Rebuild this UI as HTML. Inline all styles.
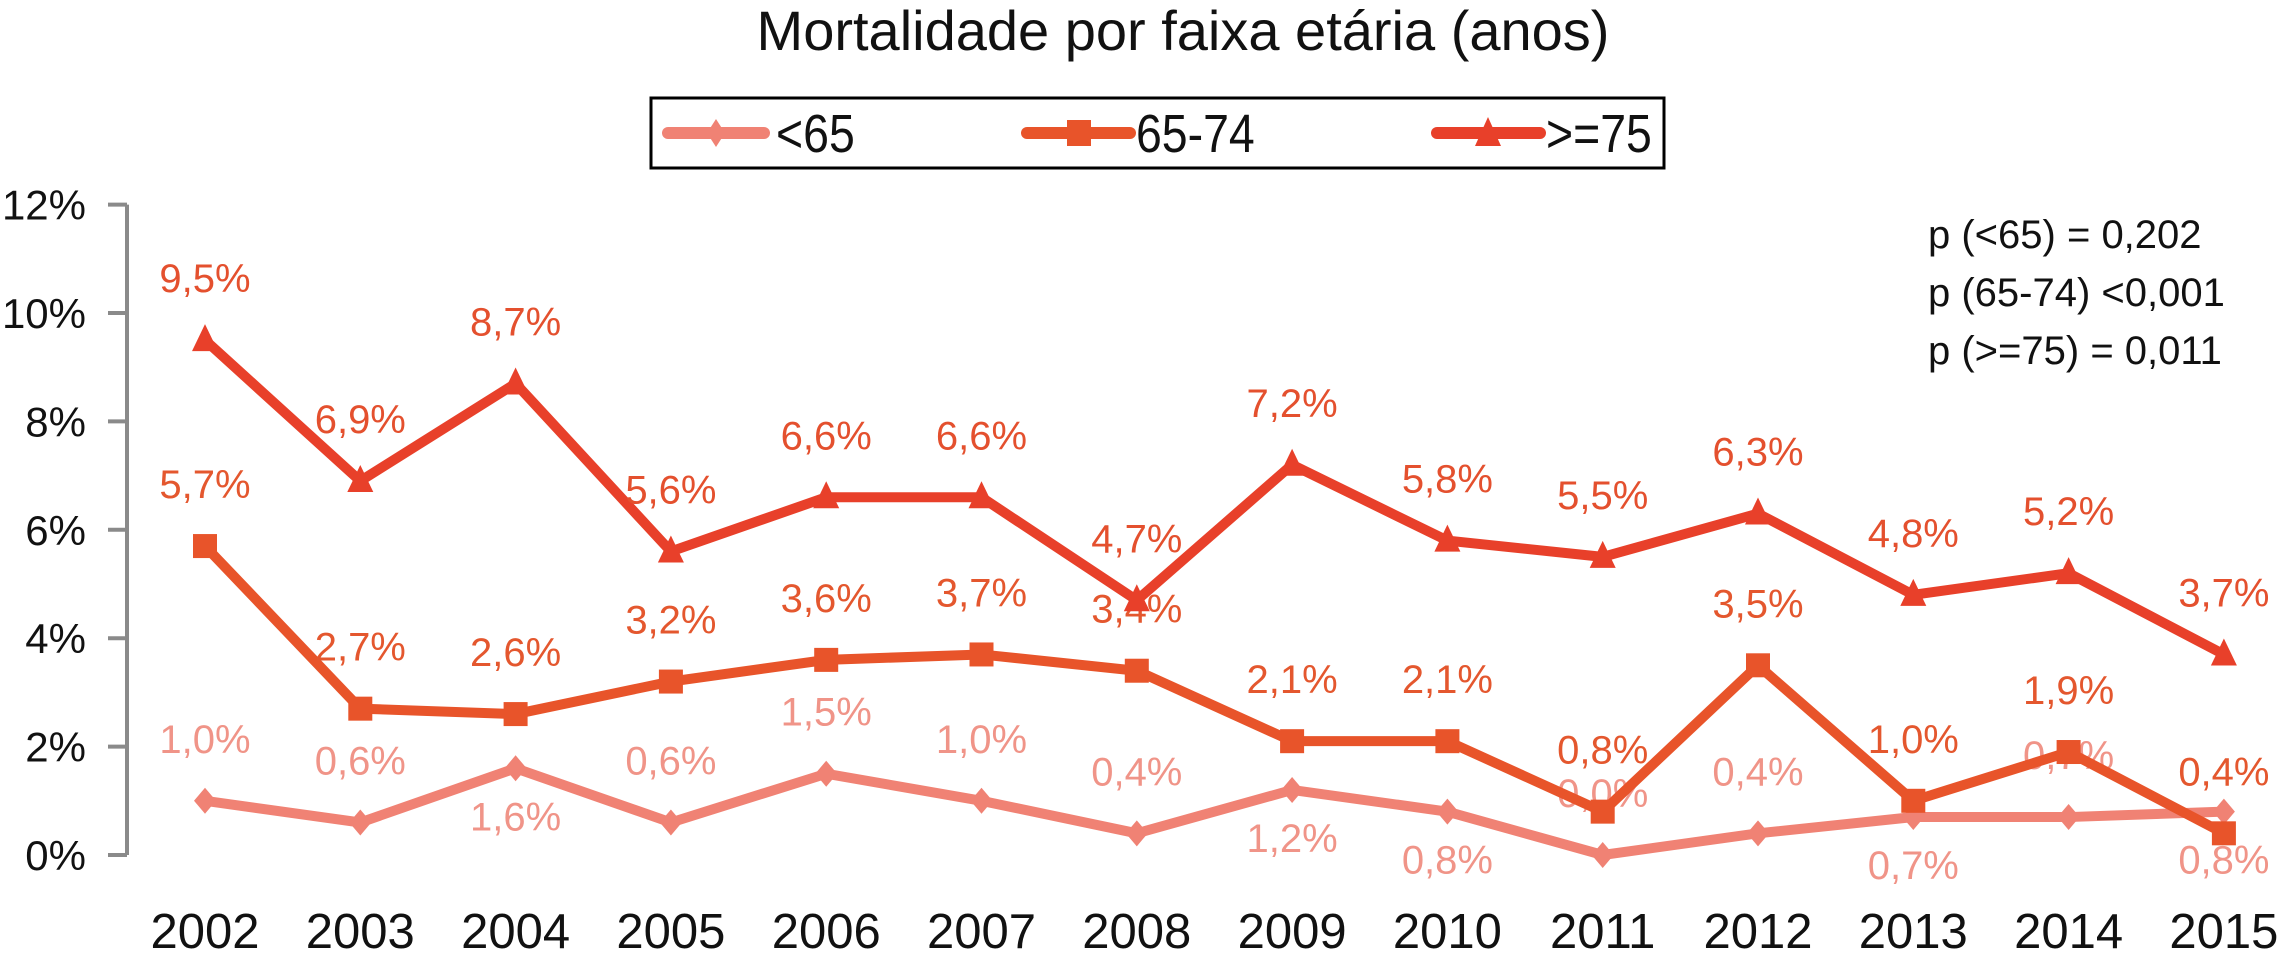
<!DOCTYPE html>
<html><head><meta charset="utf-8"><style>
html,body{margin:0;padding:0;background:#fff;}
svg{display:block;font-family:"Liberation Sans",sans-serif;}
</style></head><body>
<svg id="chart" width="2290" height="954" viewBox="0 0 2290 954" xmlns="http://www.w3.org/2000/svg">
<text x="1183" y="50" font-size="56" text-anchor="middle" fill="#111">Mortalidade por faixa etária (anos)</text>
<g>
<rect x="651" y="98" width="1013" height="70" fill="#fff" stroke="#000" stroke-width="3"/>
<g>
<line x1="668" y1="133" x2="764" y2="133" stroke="#f08274" stroke-width="12" stroke-linecap="round"/>
<path d="M716 119 L725 133 L716 147 L707 133 Z" fill="#f08274"/>
<text x="776" y="152" font-size="54" fill="#111" transform="translate(776 0) scale(0.86 1) translate(-776 0)">&lt;65</text>
</g>
<g>
<line x1="1027" y1="133" x2="1130" y2="133" stroke="#e8542a" stroke-width="12" stroke-linecap="round"/>
<rect x="1067" y="120" width="24" height="26" fill="#e8542a"/>
<text x="1136" y="152" font-size="54" fill="#111" transform="translate(1136 0) scale(0.86 1) translate(-1136 0)">65-74</text>
</g>
<g>
<line x1="1437" y1="133" x2="1540" y2="133" stroke="#e8402a" stroke-width="12" stroke-linecap="round"/>
<path d="M1488 117 L1501 146 L1475 146 Z" fill="#e8402a"/>
<text x="1546" y="152" font-size="54" fill="#111" transform="translate(1546 0) scale(0.86 1) translate(-1546 0)">&gt;=75</text>
</g>
</g>
<g font-size="40" fill="#111">
<text x="1928" y="248">p (&lt;65) = 0,202</text>
<text x="1928" y="306">p (65-74) &lt;0,001</text>
<text x="1928" y="364">p (&gt;=75) = 0,011</text>
</g>
<g id="axes"></g>
<g id="series"></g>
</svg>
<script>
const years = ['2002','2003','2004','2005','2006','2007','2008','2009','2010','2011','2012','2013','2014','2015'];
const under65 = [1.0,0.6,1.6,0.6,1.5,1.0,0.4,1.2,0.8,0.0,0.4,0.7,0.7,0.8];
const age6574 = [5.7,2.7,2.6,3.2,3.6,3.7,3.4,2.1,2.1,0.8,3.5,1.0,1.9,0.4];
const age75 = [9.5,6.9,8.7,5.6,6.6,6.6,4.7,7.2,5.8,5.5,6.3,4.8,5.2,3.7];
const under65LabelBelow = [false,false,true,false,false,false,false,true,true,false,false,true,false,true];
const yTicks = [0,2,4,6,8,10,12];

const NS = 'http://www.w3.org/2000/svg';
const x0 = 205, xStep = 155.3, y0 = 855, yPer = 54.2;
function xScale(i){ return x0 + i*xStep; }
function yScale(v){ return y0 - v*yPer; }
function mk(tag, attrs, parent){ const e=document.createElementNS(NS,tag); for(const k in attrs) e.setAttribute(k,attrs[k]); parent.appendChild(e); return e; }
function fmt(v){ return v.toFixed(1).replace('.',',')+'%'; }

const axes = document.getElementById('axes');
const yAxis = mk('line',{x1:127,y1:yScale(12),x2:127,y2:yScale(0),stroke:'#8a8a8a','stroke-width':4},axes);


yTicks.forEach(t=>{
  const tk = mk('line',{x1:108,y1:yScale(t),x2:127,y2:yScale(t),stroke:'#8a8a8a','stroke-width':4},axes);
  
  
  const lb = mk('text',{x:86,y:yScale(t)+15,'font-size':42,'text-anchor':'end',fill:'#111'},axes);
  lb.textContent = t+'%';
  
  
});
years.forEach((y,i)=>{
  const lb = mk('text',{x:xScale(i),y:948,'font-size':49,'text-anchor':'middle',fill:'#111'},axes);
  lb.textContent = y;
  
  
});

const series = document.getElementById('series');
function drawSeries(vals, color, labelColor, marker, name, below){
  const g = mk('g',{},series);
  
  
  const pts = vals.map((v,i)=>xScale(i)+','+yScale(v)).join(' ');
  const pl = mk('polyline',{points:pts,fill:'none',stroke:color,'stroke-width':10,'stroke-linejoin':'miter'},g);
  
  
  vals.forEach((v,i)=>{
    const cx=xScale(i), cy=yScale(v);
    let m;
    if(marker==='diamond') m = mk('path',{d:`M${cx} ${cy-13} L${cx+11} ${cy} L${cx} ${cy+13} L${cx-11} ${cy} Z`,fill:color},g);
    else if(marker==='square') m = mk('rect',{x:cx-12,y:cy-12,width:24,height:24,fill:color},g);
    else m = mk('path',{d:`M${cx} ${cy-16} L${cx+13} ${cy+11} L${cx-13} ${cy+11} Z`,fill:color},g);
    
    
    const isBelow = below && below[i];
    const lb = mk('text',{x:cx,y:isBelow?cy+62:cy-48,'font-size':40,'text-anchor':'middle',fill:labelColor},g);
    lb.textContent = fmt(v);
    
    
  });
}
drawSeries(under65,'#f08274','#f09488','diamond','under-65',under65LabelBelow);
drawSeries(age6574,'#e8542a','#e4572e','square','65-74',null);
drawSeries(age75,'#e8402a','#e4502e','triangle','75-plus',null);
</script>
</body></html>
